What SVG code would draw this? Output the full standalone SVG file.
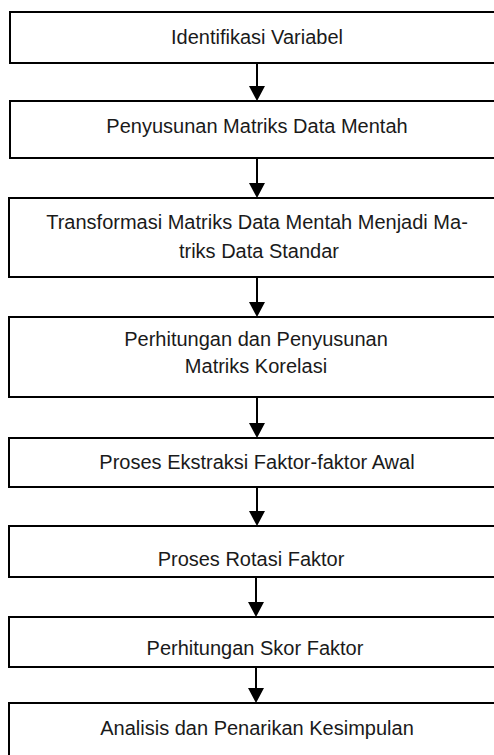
<svg xmlns="http://www.w3.org/2000/svg" width="494" height="755" viewBox="0 0 494 755">
<defs>
<style>
.box{fill:#ffffff;stroke:#000000;stroke-width:2}
.lbl{font-family:"Liberation Sans",Arial,sans-serif;font-size:20px;fill:#1a1a1a;text-anchor:middle}
.conn{stroke:#000000;stroke-width:2;fill:none}
.head{fill:#000000;stroke:none}
</style>
</defs>
<rect width="494" height="755" fill="#ffffff"/>
<g id="connectors">
<line class="conn" x1="257" y1="63" x2="257" y2="87"/><polygon class="head" points="249,86 265,86 257,101"/>
<line class="conn" x1="257" y1="158" x2="257" y2="184"/><polygon class="head" points="249,183 265,183 257,198"/>
<line class="conn" x1="257" y1="277" x2="257" y2="303"/><polygon class="head" points="249,302 265,302 257,317"/>
<line class="conn" x1="257" y1="397" x2="257" y2="424"/><polygon class="head" points="249,423 265,423 257,438"/>
<line class="conn" x1="257" y1="487" x2="257" y2="512"/><polygon class="head" points="249,511 265,511 257,526"/>
<line class="conn" x1="256" y1="577" x2="256" y2="603"/><polygon class="head" points="248,602 264,602 256,617"/>
<line class="conn" x1="256" y1="667" x2="256" y2="689"/><polygon class="head" points="248,688 264,688 256,703"/>
</g>
<g id="n1"><rect class="box" x="10" y="12" width="500" height="51"/><text class="lbl" x="257" y="44">Identifikasi Variabel</text></g>
<g id="n2"><rect class="box" x="10" y="101" width="500" height="57"/><text class="lbl" x="257" y="133">Penyusunan Matriks Data Mentah</text></g>
<g id="n3"><rect class="box" x="9" y="198" width="500" height="79"/><text class="lbl" x="257" y="229">Transformasi Matriks Data Mentah Menjadi Ma-</text><text class="lbl" x="259" y="258">triks Data Standar</text></g>
<g id="n4"><rect class="box" x="9" y="317" width="500" height="80"/><text class="lbl" x="256" y="346">Perhitungan dan Penyusunan</text><text class="lbl" x="256" y="373">Matriks Korelasi</text></g>
<g id="n5"><rect class="box" x="9" y="438" width="500" height="49"/><text class="lbl" x="257" y="469">Proses Ekstraksi Faktor-faktor Awal</text></g>
<g id="n6"><rect class="box" x="9" y="526" width="500" height="51"/><text class="lbl" x="251" y="566">Proses Rotasi Faktor</text></g>
<g id="n7"><rect class="box" x="9" y="617" width="500" height="50"/><text class="lbl" x="255" y="655">Perhitungan Skor Faktor</text></g>
<g id="n8"><rect class="box" x="9" y="703" width="500" height="70"/><text class="lbl" x="257" y="735">Analisis dan Penarikan Kesimpulan</text></g>
</svg>
